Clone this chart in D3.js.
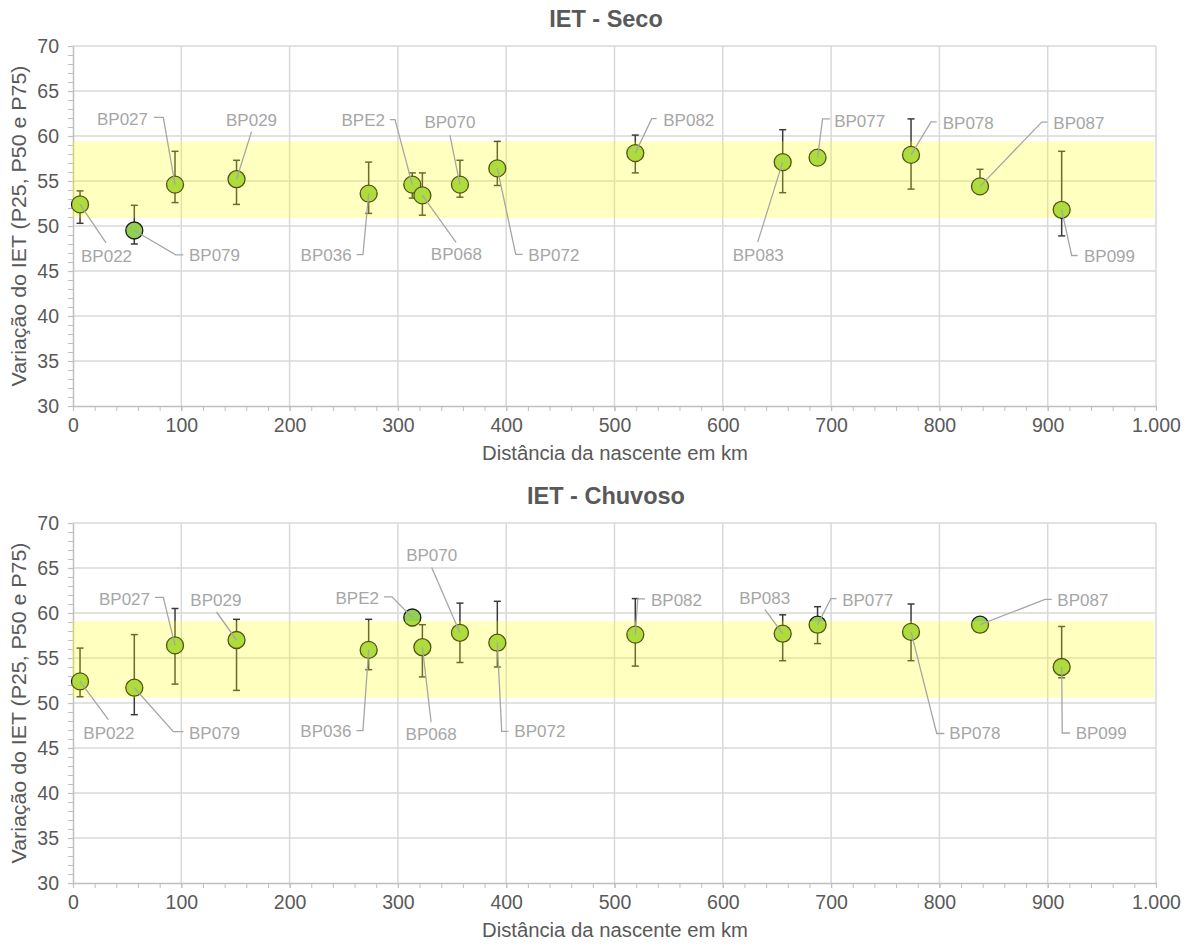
<!DOCTYPE html>
<html lang="pt">
<head>
<meta charset="utf-8">
<script src="https://cdn.jsdelivr.net/npm/d3@7"></script>
<style>
  html, body { margin: 0; padding: 0; background: #ffffff; }
  svg { display: block; font-family: "Liberation Sans", Arial, sans-serif; }
</style>
</head>
<body>
<svg id="chart" width="1193" height="947"></svg>
<script>
// Monitoring stations ordered by distance from the source
const stations = ["BP022","BP079","BP027","BP029","BP036","BPE2","BP068","BP070","BP072","BP082","BP083","BP077","BP078","BP087","BP099"];
const distKm   = [6.5, 56.6, 94.2, 151, 273, 313.3, 322.6, 357.3, 391.8, 519.2, 655.3, 687.5, 773.8, 837.5, 912.9];

// Dry season (Seco): median, 25th and 75th percentiles of IET
const secoP50 = [52.4, 49.5, 54.6, 55.2, 53.6, 54.6, 53.4, 54.6, 56.4, 58.1, 57.1, 57.6, 57.9, 54.4, 51.8];
const secoP25 = [50.3, 48.0, 52.6, 52.4, 51.4, 53.1, 51.2, 53.2, 54.5, 55.9, 53.7, 57.3, 54.1, 54.2, 48.9];
const secoP75 = [53.9, 52.3, 58.3, 57.3, 57.1, 55.9, 55.9, 57.3, 59.4, 60.1, 60.7, 57.9, 61.9, 56.3, 58.3];

// Rainy season (Chuvoso)
const chuvP50 = [52.4, 51.7, 56.4, 57.0, 55.9, 59.5, 56.2, 57.8, 56.7, 57.6, 57.7, 58.7, 57.9, 58.7, 54.0];
const chuvP25 = [50.7, 48.7, 52.1, 51.4, 53.7, 58.6, 52.9, 54.5, 54.0, 54.1, 54.7, 56.6, 54.7, 58.5, 52.8];
const chuvP75 = [56.1, 57.6, 60.5, 59.3, 59.3, 59.9, 58.7, 61.1, 61.3, 61.6, 59.8, 60.7, 61.0, 58.9, 58.5];

// Mesotrophic reference range shaded in each panel
const secoBand = [50.9, 59.4];
const chuvBand = [50.6, 59.1];

// Axis ticks
const xTicks = [0, 100, 200, 300, 400, 500, 600, 700, 800, 900, 1000];
const yTicks = [30, 35, 40, 45, 50, 55, 60, 65, 70];

// Data-label placement: text offset (px), anchor, leader polyline offsets (px) from the marker
const secoLabelLayout = [
  [1, 51.4, "start", [[26, 38.4]]],
  [54.7, 24.3, "start", [[41.4, 24.3], [49, 24.3]]],
  [-27, -66, "end", [[-11.7, -67.3], [-21, -67.3]]],
  [15, -59, "middle", [[15, -47.6]]],
  [-17, 61, "end", [[-5.7, 61], [-12, 61]]],
  [-27.3, -65, "end", [[-17.3, -65], [-22.3, -65]]],
  [34, 58.3, "middle", [[33.7, 47]]],
  [-10, -62.6, "middle", [[-10, -49.3]]],
  [31, 86.7, "start", [[18.4, 86], [25.4, 86]]],
  [28, -33.4, "start", [[16.4, -34.4], [21.4, -34.4]]],
  [-24.4, 92.6, "middle", [[-25, 80]]],
  [16.6, -37, "start", [[5, -38.7], [12.3, -38.7]]],
  [31.7, -32, "start", [[20, -33], [25.7, -33]]],
  [73.3, -63.7, "start", [[61.7, -64.3], [67.3, -64.3]]],
  [22.3, 46.7, "start", [[10, 45.7], [16, 45.7]]]
];
const chuvLabelLayout = [
  [3.3, 51.3, "start", [[28.3, 38.3]]],
  [54.7, 45.6, "start", [[39, 44], [49, 44]]],
  [-25, -46.7, "end", [[-11.7, -48], [-20, -48]]],
  [-20.7, -39.7, "middle", [[-20, -28]]],
  [-17.3, 80.7, "end", [[-5.7, 80.7], [-12.3, 80.7]]],
  [-33.3, -19.4, "end", [[-20.3, -20.7], [-28.3, -20.7]]],
  [8.7, 87, "middle", [[8.7, 74.7]]],
  [-28.3, -77.7, "middle", [[-28.3, -65.4]]],
  [17, 88.7, "start", [[4.4, 88.7], [11, 88.7]]],
  [15.7, -34.7, "start", [[2.4, -35.7], [9.7, -35.7]]],
  [-18, -35.7, "middle", [[-17.7, -24]]],
  [24.6, -24.3, "start", [[13.3, -26], [19, -26]]],
  [38.3, 101.6, "start", [[25.7, 101.6], [33.3, 101.6]]],
  [77.3, -25, "start", [[65, -25.3], [71.7, -25.3]]],
  [14, 66, "start", [[0.6, 66], [8.3, 66]]]
];

const panels = [
  { title: "IET - Seco",    offset: 0,   p50: secoP50, p25: secoP25, p75: secoP75, band: secoBand, layout: secoLabelLayout },
  { title: "IET - Chuvoso", offset: 477, p50: chuvP50, p25: chuvP25, p75: chuvP75, band: chuvBand, layout: chuvLabelLayout }
];

const plot = { left: 73, right: 1156, top: 46, bottom: 406 };
const ptBR = d3.formatLocale({ decimal: ",", thousands: ".", grouping: [3], currency: ["R$", ""] });
const fmtKm = ptBR.format(",d");

const svg = d3.select("#chart");
const x = d3.scaleLinear().domain([0, 1000]).range([plot.left, plot.right]);

panels.forEach(p => {
  const g = svg.append("g").attr("transform", `translate(0,${p.offset})`);
  const y = d3.scaleLinear().domain([30, 70]).range([plot.bottom, plot.top]);

  // gridlines
  g.append("g").selectAll("line.gy").data(yTicks.filter(v => v > 30)).join("line")
    .attr("x1", plot.left).attr("x2", plot.right)
    .attr("y1", d => y(d)).attr("y2", d => y(d))
    .attr("stroke", "#d9d9d9").attr("stroke-width", 1.5);
  g.append("g").selectAll("line.gx").data(xTicks.filter(v => v > 0)).join("line")
    .attr("x1", d => x(d)).attr("x2", d => x(d))
    .attr("y1", plot.top).attr("y2", plot.bottom)
    .attr("stroke", "#d9d9d9").attr("stroke-width", 1.5);

  // minor ticks
  g.append("g").attr("transform", `translate(${plot.left},0)`)
    .call(d3.axisLeft(y).tickValues(d3.range(30, 71, 1)).tickSize(5).tickFormat(""))
    .call(a => a.select(".domain").remove())
    .call(a => a.selectAll("line").attr("stroke", "#bfbfbf").attr("stroke-width", 1));
  g.append("g").attr("transform", `translate(0,${plot.bottom})`)
    .call(d3.axisBottom(x).tickValues(d3.range(0, 1001, 20)).tickSize(5).tickFormat(""))
    .call(a => a.select(".domain").remove())
    .call(a => a.selectAll("line").attr("stroke", "#bfbfbf").attr("stroke-width", 1));

  // major axes
  const yAxis = g.append("g").attr("transform", `translate(${plot.left},0)`)
    .call(d3.axisLeft(y).tickValues(yTicks).tickSize(5).tickPadding(9).tickSizeOuter(0).tickFormat(d3.format("d")));
  const xAxis = g.append("g").attr("transform", `translate(0,${plot.bottom})`)
    .call(d3.axisBottom(x).tickValues(xTicks).tickSize(5).tickPadding(7).tickSizeOuter(0).tickFormat(fmtKm));
  [yAxis, xAxis].forEach(a => {
    a.select(".domain").attr("stroke", "#bfbfbf").attr("stroke-width", 1.5);
    a.selectAll(".tick line").attr("stroke", "#bfbfbf").attr("stroke-width", 1.2);
    a.selectAll(".tick text").attr("fill", "#595959").attr("font-size", 19.5)
      .attr("font-family", "'Liberation Sans', Arial, sans-serif");
  });

  // error bars (P25–P75)
  const eb = g.append("g").attr("stroke", "#3a3a3a").attr("stroke-width", 1.5);
  stations.forEach((s, i) => {
    const cx = x(distKm[i]);
    eb.append("line").attr("x1", cx).attr("x2", cx).attr("y1", y(p.p25[i])).attr("y2", y(p.p75[i]));
    eb.append("line").attr("x1", cx - 3.5).attr("x2", cx + 3.5).attr("y1", y(p.p25[i])).attr("y2", y(p.p25[i]));
    eb.append("line").attr("x1", cx - 3.5).attr("x2", cx + 3.5).attr("y1", y(p.p75[i])).attr("y2", y(p.p75[i]));
  });

  // medians
  g.append("g").selectAll("circle").data(stations).join("circle")
    .attr("cx", (d, i) => x(distKm[i]))
    .attr("cy", (d, i) => y(p.p50[i]))
    .attr("r", 8.5)
    .attr("fill", "#92d050")
    .attr("stroke", "#1a1a1a").attr("stroke-width", 1.3);

  // translucent reference band laid over the series
  g.append("rect")
    .attr("x", x(0) - 1).attr("width", x(1000) - x(0) - 1)
    .attr("y", y(p.band[1])).attr("height", y(p.band[0]) - y(p.band[1]))
    .attr("fill", "#ffff00").attr("fill-opacity", 0.25);

  // data labels with leader lines
  const lab = g.append("g");
  stations.forEach((s, i) => {
    const cx = x(distKm[i]), cy = y(p.p50[i]);
    const [tx, ty, anchor, path] = p.layout[i];
    const pts = [[cx, cy]].concat(path.map(([dx, dy]) => [cx + dx, cy + dy]));
    lab.append("path").attr("d", d3.line()(pts))
      .attr("fill", "none").attr("stroke", "#a6a6a6").attr("stroke-width", 1.3);
    lab.append("text").attr("x", cx + tx).attr("y", cy + ty).attr("dy", "0.35em")
      .attr("text-anchor", anchor).attr("font-size", 17).attr("fill", "#a6a6a6").text(s);
  });

  // titles
  g.append("text").attr("x", 606).attr("y", 26.5).attr("text-anchor", "middle")
    .attr("font-size", 23.5).attr("font-weight", "bold").attr("fill", "#595959").text(p.title);
  g.append("text").attr("x", 615).attr("y", 460).attr("text-anchor", "middle")
    .attr("font-size", 19.5).attr("fill", "#595959")
    .attr("textLength", 266).attr("lengthAdjust", "spacingAndGlyphs")
    .text("Distância da nascente em km");
  g.append("text").attr("transform", `translate(26,${(plot.top + plot.bottom) / 2}) rotate(-90)`)
    .attr("text-anchor", "middle").attr("font-size", 19.5).attr("fill", "#595959")
    .attr("textLength", 321).attr("lengthAdjust", "spacingAndGlyphs")
    .text("Variação do IET (P25, P50 e P75)");
});
</script>
</body>
</html>
